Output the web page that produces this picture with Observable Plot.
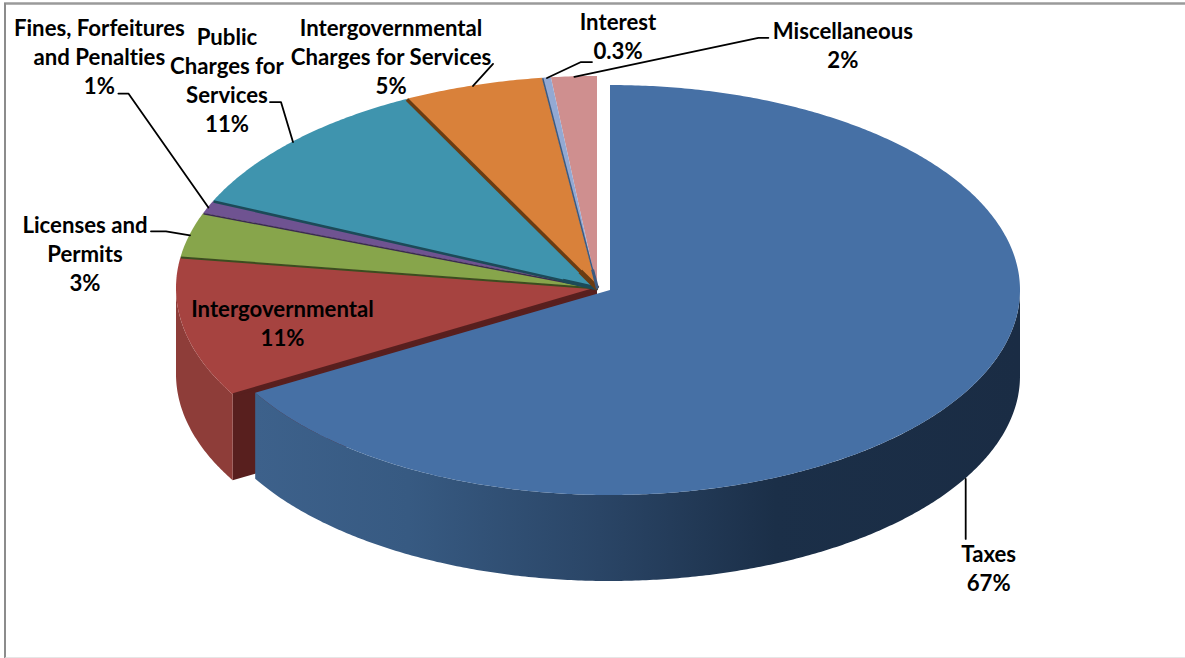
<!DOCTYPE html>
<html>
<head>
<meta charset="utf-8">
<script src="https://cdn.jsdelivr.net/npm/d3@7"></script>
<script src="https://cdn.jsdelivr.net/npm/@observablehq/plot@0.6"></script>
<style>
html,body{margin:0;padding:0;background:#fff;overflow:hidden}
svg{display:block}
svg text{font-variant-ligatures:none}
</style>
</head>
<body>
<div id="chart"></div>
<script>
// ---- data ----
const categories = ["Taxes","Intergovernmental","Licenses and\nPermits","Fines, Forfeitures\nand Penalties","Public\nCharges for\nServices","Intergovernmental\nCharges for Services","Interest","Miscellaneous"];
const percentLabels = ["67%","11%","3%","1%","11%","5%","0.3%","2%"];
const shares = [66.7,10.7,3.4,1.0,10.8,5.4,0.33,1.75];

// ---- styles ----
const topColors = ["#4670a5","#a64340","#87a54b","#6f5391","#3f94ae","#d9813a","#93a9d3","#cf8f8f"];
const wallColors = ["url(#taxesWall)","#8e3d39","#6b843b","#584274","#32768b","#ad672e","#7587a8","#a57272"];
const edgeColors = [null,"#581f1e","#3b4d1f","#3a2a50","#1c4a58","#6a3c12","#3d5a80","#a57272"];
const edgeWidths = [0,3,2,1.5,2.5,3.5,1.5,0];
const edgeStubWidths = [0,0,0,0,4,5,3,0];

// ---- layout (pixels) ----
const W = 1185, H = 658;
const pieCentre = {x:597,y:288,rx:421,ry:212};
const explodedCentre = {x:610,y:290,rx:410,ry:205};
const depth = 86;
const labelOffsets = [[23,90.5],[98.5,-4],[-105,19],[-109,-150],[-66,-60.5],[-82,-28],[71,-40.5],[268.5,-30.5]];
const leaderBends = [[[0,60]],[],[[-24,-4],[-39,-4]],[[-80,-114],[-90,-114]],[[-12,-40],[-23,-40]],[[20,-22]],[[34,-16],[45,-16]],[[184,-39],[194,-39]]];

// ---- geometry from the values ----
const arcs = d3.pie().sort(null)(shares);
const rad = Math.PI/180;
const rim = (g,a) => [g.x + g.rx*Math.sin(a), g.y - g.ry*Math.cos(a)];
const sweep = (a0,a1) => { const n = Math.max(2,Math.ceil((a1-a0)/(0.5*rad))); return d3.range(n+1).map(i => a0+(a1-a0)*i/n); };
const slices = arcs.map((arc,i) => {
  const g = i === 0 ? explodedCentre : pieCentre;
  const mid = (arc.startAngle+arc.endAngle)/2;
  let anchor = rim(g,mid);
  if (i === 0) anchor = [anchor[0],anchor[1]+depth];
  return {i,g,a0:arc.startAngle,a1:arc.endAngle,anchor};
});

const marks = [];
const defs = () => {
  const d = d3.create("svg:defs");
  const lg = d.append("linearGradient").attr("id","taxesWall");
  [[0,"#3d618b"],[0.2,"#375a82"],[0.45,"#2a4566"],[0.68,"#1b2f48"],[1,"#1a2c44"]].forEach(([o,c]) =>
    lg.append("stop").attr("offset",o).attr("stop-color",c));
  return d.node();
};
marks.push(defs);

// page frame
marks.push(Plot.ruleY([3],{x1:4,x2:W,stroke:"#9a9a9a",strokeWidth:2.5}));
marks.push(Plot.ruleX([4.5],{y1:3,y2:H,stroke:"#8c8c8c",strokeWidth:2}));
marks.push(Plot.ruleY([657.5],{x1:5,x2:W,stroke:"#dedede",strokeWidth:1.5}));

// outer walls, only where they face the viewer
const wallParts = slices.map(s => ({s,a0:Math.max(s.a0,90*rad),a1:Math.min(s.a1,270*rad)})).filter(p => p.a1>p.a0);
const order = [...wallParts].sort((a,b)=>b.s.i-a.s.i);
for (const p of order) {
  const pts = sweep(p.a0,p.a1).map(a => rim(p.s.g,a));
  if (p.s.i === 1) {
    // cut face of the slice next to the pulled-out one
    const g = p.s.g, e = rim(g,p.s.a0);
    marks.push(Plot.area([[g.x,g.y],e],{x1:d=>d[0],x2:d=>d[0],y1:d=>d[1],y2:d=>d[1]+depth,fill:edgeColors[1]}));
  }
  marks.push(Plot.area(pts,{x1:d=>d[0],x2:d=>d[0],y1:d=>d[1],y2:d=>d[1]+depth,fill:wallColors[p.s.i]}));
}

// top faces (back slices first, pulled-out slice last)
for (const s of [...slices].reverse()) {
  const pts = sweep(s.a0,s.a1).map(a => rim(s.g,a));
  marks.push(Plot.area(pts,{x1:()=>s.g.x,y1:()=>s.g.y,x2:d=>d[0],y2:d=>d[1],fill:topColors[s.i]}));
}

// dark edges between the back slices
const edges = slices.filter(s => edgeWidths[s.i] > 0).map(s => {
  const e = rim(s.g,s.a0);
  return {x1:s.g.x,y1:s.g.y,x2:e[0],y2:e[1],c:edgeColors[s.i],w:edgeWidths[s.i]};
});
for (const e of edges) marks.push(Plot.link([e],{x1:"x1",y1:"y1",x2:"x2",y2:"y2",stroke:"c",strokeWidth:"w"}));
// the edges get thicker where they meet at the centre
const stubs = slices.filter(s => edgeStubWidths[s.i] > 0).map(s => {
  const e = rim(s.g,s.a0);
  return {x1:s.g.x,y1:s.g.y,x2:s.g.x+(e[0]-s.g.x)*0.09,y2:s.g.y+(e[1]-s.g.y)*0.09,c:edgeColors[s.i],w:edgeStubWidths[s.i]};
});
for (const e of stubs) marks.push(Plot.link([e],{x1:"x1",y1:"y1",x2:"x2",y2:"y2",stroke:"c",strokeWidth:"w"}));

// leader lines
slices.forEach((s,i) => {
  if (!leaderBends[i].length) return;
  const pts = [s.anchor,...leaderBends[i].map(b => [s.anchor[0]+b[0],s.anchor[1]+b[1]])];
  marks.push(Plot.line(pts,{x:d=>d[0],y:d=>d[1],stroke:"#000",strokeWidth:1.8}));
});

// labels
const labels = slices.map((s,i) => ({
  x:s.anchor[0]+labelOffsets[i][0],
  y:s.anchor[1]+labelOffsets[i][1],
  t:categories[i]+"\n"+percentLabels[i]
}));
marks.push(Plot.text(labels,{x:"x",y:"y",dy:-2,text:"t",fill:"#000",fontSize:22.2,fontWeight:700,fontFamily:"Lato",lineHeight:1.305,lineAnchor:"middle",textAnchor:"middle"}));

const chart = Plot.plot({
  width:W,height:H,margin:0,
  style:{background:"#fff"},
  x:{domain:[0,W],range:[0,W],axis:null},
  y:{domain:[0,H],range:[0,H],axis:null},
  color:{type:"identity"},
  marks
});
document.getElementById("chart").append(chart);
</script>
</body>
</html>
